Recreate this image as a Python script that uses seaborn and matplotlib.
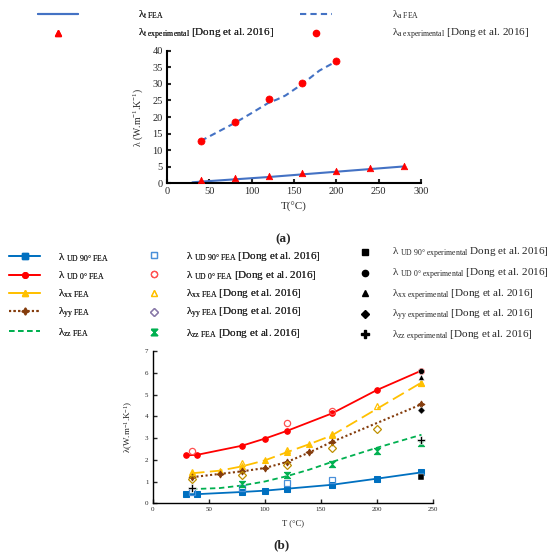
import matplotlib
matplotlib.use("Agg")
import matplotlib.pyplot as plt
import seaborn as sns
from matplotlib.lines import Line2D

# ---- data (a): axial / transverse conductivity ----
t_fea_t = [30, 40, 80, 120, 160, 200, 240, 280]
lam_t_fea = [0.3, 0.5, 1.2, 1.9, 2.7, 3.5, 4.3, 5.1]
t_exp_t = [40, 80, 120, 160, 200, 240, 280]
lam_t_exp = [1.0, 1.5, 2.3, 3.0, 3.6, 4.5, 5.1]

t_fea_a = [40, 60, 80, 100, 120, 130, 140, 160, 180, 200]
lam_a_fea = [12.8, 15.5, 18.2, 21.2, 24.3, 25.3, 26.5, 30.0, 34.0, 36.8]
t_exp_a = [40, 80, 120, 160, 200]
lam_a_exp = [12.8, 18.5, 25.5, 30.2, 36.8]

# ---- data (b) ----
t_ud90 = [30, 40, 80, 100, 120, 160, 200, 240]
ud90_fea = [0.42, 0.42, 0.52, 0.58, 0.67, 0.85, 1.13, 1.42]
t_ud90_dong = [35, 80, 120, 160]
ud90_dong = [0.52, 0.72, 0.93, 1.05]
t_ud90_exp = [240]
ud90_exp = [1.2]

t_ud0 = [30, 40, 80, 100, 120, 160, 200, 240]
ud0_fea = [2.2, 2.23, 2.65, 2.97, 3.33, 4.13, 5.2, 6.1]
t_ud0_dong = [35, 120, 160]
ud0_dong = [2.42, 3.68, 4.25]
t_ud0_exp = [240]
ud0_exp = [6.1]

t_xx = [35, 60, 80, 100, 120, 140, 160, 240]
xx_fea = [1.38, 1.5, 1.7, 1.97, 2.35, 2.72, 3.12, 5.55]
t_xx_dong = [35, 80, 120, 160, 200, 240]
xx_dong = [1.45, 1.85, 2.45, 3.2, 4.48, 5.55]
t_xx_exp = [240]
xx_exp = [5.8]

t_yy = [35, 60, 80, 100, 120, 140, 160, 240]
yy_fea = [1.2, 1.35, 1.47, 1.62, 1.9, 2.34, 2.82, 4.55]
t_yy_dong = [35, 80, 120, 160, 200]
yy_dong = [1.1, 1.32, 1.77, 2.52, 3.4]
t_yy_exp = [240]
yy_exp = [4.3]

t_zz = [35, 60, 80, 100, 120, 140, 160, 200, 240]
zz_fea = [0.65, 0.7, 0.82, 1.0, 1.25, 1.55, 1.9, 2.55, 3.15]
t_zz_dong = [80, 120, 160, 200, 240]
zz_dong = [0.88, 1.28, 1.8, 2.4, 2.79]
t_zz_exp = [35, 240]
zz_exp = [0.68, 2.9]

DONG = " [Dong et al. 2016]"

sns.set_style("ticks")
plt.rcParams["font.family"] = ["Liberation Serif", "DejaVu Serif"]
plt.rcParams["mathtext.fontset"] = "custom"
plt.rcParams["mathtext.rm"] = "Liberation Serif"
plt.rcParams["mathtext.it"] = "Liberation Serif:italic"

BLUE_A = "#4472C4"
RED = "#FF0000"
BLUE = "#0070C0"
GOLD = "#FFC000"
BROWN = "#843C0C"
GREEN = "#00B050"
HOURGLASS = [(-1, 1), (1, 1), (-1, -1), (1, -1), (-1, 1)]

fig = plt.figure(figsize=(5.5, 5.53), dpi=100)


def style_axes(ax, lw, tick_size):
    sns.despine(ax=ax)
    for side in ["left", "bottom"]:
        ax.spines[side].set_linewidth(lw)
        ax.spines[side].set_color("black")
    ax.tick_params(direction="in", length=3, width=lw, labelsize=tick_size, pad=3)


# ---------------- (a) ----------------
ax1 = fig.add_axes([0.3036, 0.6685, 0.4619, 0.2398])
sns.lineplot(x=t_fea_t, y=lam_t_fea, ax=ax1, color=BLUE_A, lw=1.5)
sns.lineplot(x=t_fea_a, y=lam_a_fea, ax=ax1, color=BLUE_A, lw=1.5, dashes=False, linestyle=(0, (3, 2)))
sns.scatterplot(x=t_exp_t, y=lam_t_exp, ax=ax1, marker="^", color=RED, s=22, edgecolor=RED, linewidth=0.5, zorder=3)
sns.scatterplot(x=t_exp_a, y=lam_a_exp, ax=ax1, marker="o", color=RED, s=26, edgecolor=RED, linewidth=0.5, zorder=3)
ax1.set_xlim(0, 300)
ax1.set_ylim(0, 40)
ax1.set_xticks(range(0, 301, 50))
ax1.set_yticks(range(0, 41, 5))
style_axes(ax1, 1.5, 7.5)
ax1.set_xlabel("T(°C)", fontsize=8, labelpad=4)
ax1.set_ylabel("λ (W.m$^{-1}$.K$^{-1}$)", fontsize=7, labelpad=5)

h_top1 = [
    Line2D([], [], color=BLUE_A, lw=1.5),
    Line2D([], [], color=RED, marker="^", ls="", ms=4),
]
l_top1 = ["λ$_{\\mathrm{t\\ FEA}}$", "λ$_{\\mathrm{t\\ experimental}}$" + DONG]
h_top2 = [
    Line2D([], [], color=BLUE_A, lw=1.5, ls=(0, (3, 2))),
    Line2D([], [], color=RED, marker="o", ls="", ms=4.5),
]
l_top2 = ["λ$_{\\mathrm{a\\ FEA}}$", "λ$_{\\mathrm{a\\ experimental}}$" + DONG]

leg_kw = dict(frameon=False, fontsize=8, borderpad=0, borderaxespad=0, labelspacing=0.5, loc="center left")
leg = fig.legend(h_top1, l_top1, bbox_to_anchor=(38 / 550, 1 - 25.5 / 553), handlelength=3.6, handletextpad=5.4, **leg_kw)
fig.add_artist(leg)
fig.legend(h_top2, l_top2, bbox_to_anchor=(300 / 550, 1 - 25.5 / 553), handlelength=2.9, handletextpad=5.4, **leg_kw)

fig.text(283 / 550, 1 - 239 / 553, "(a)", fontsize=9.5, fontweight="bold", ha="center", va="center")

# ---------------- (b) ----------------
ax2 = fig.add_axes([0.2776, 0.0899, 0.5091, 0.2754])
sns.lineplot(x=t_ud90, y=ud90_fea, ax=ax2, color=BLUE, lw=1.3, marker="s", ms=4, mec=BLUE)
sns.lineplot(x=t_ud0, y=ud0_fea, ax=ax2, color=RED, lw=1.3, marker="o", ms=4, mec=RED)
sns.lineplot(x=t_xx, y=xx_fea, ax=ax2, color=GOLD, lw=1.3, linestyle=(0, (7, 3)), marker="^", ms=4, mec=GOLD)
sns.lineplot(x=t_yy, y=yy_fea, ax=ax2, color=BROWN, lw=1.5, linestyle=(0, (1, 1.2)), marker=(4, 1, 0), ms=5, mec=BROWN)
sns.lineplot(x=t_zz, y=zz_fea, ax=ax2, color=GREEN, lw=1.3, linestyle=(0, (3, 2)))

sns.lineplot(x=t_ud90_dong, y=ud90_dong, ax=ax2, ls="", marker="s", ms=4.5, mfc="none", mec="#4A90D9", mew=0.9)
sns.lineplot(x=t_ud0_dong, y=ud0_dong, ax=ax2, ls="", marker="o", ms=4.5, mfc="none", mec="#FF5050", mew=0.9)
sns.lineplot(x=t_xx_dong, y=xx_dong, ax=ax2, ls="", marker="^", ms=5, mfc="none", mec=GOLD, mew=0.9)
sns.lineplot(x=t_yy_dong, y=yy_dong, ax=ax2, ls="", marker="D", ms=4.5, mfc="none", mec="#BF8F00", mew=0.9)
sns.lineplot(x=t_zz_dong, y=zz_dong, ax=ax2, ls="", marker=HOURGLASS, ms=4.5, color=GREEN, mec=GREEN)

sns.scatterplot(x=t_ud90_exp, y=ud90_exp, ax=ax2, marker="s", color="black", s=16, zorder=4)
sns.scatterplot(x=t_ud0_exp, y=ud0_exp, ax=ax2, marker="o", color="black", s=18, zorder=4)
sns.scatterplot(x=t_xx_exp, y=xx_exp, ax=ax2, marker="^", color="black", s=18, zorder=4)
sns.scatterplot(x=t_yy_exp, y=yy_exp, ax=ax2, marker="D", color="black", s=14, zorder=4)
sns.scatterplot(x=t_zz_exp, y=zz_exp, ax=ax2, marker="P", color="black", s=30, zorder=4)

ax2.set_xlim(0, 250)
ax2.set_ylim(0, 7)
ax2.set_xticks(range(0, 251, 50))
ax2.set_yticks(range(0, 8))
style_axes(ax2, 1.0, 5)
ax2.set_xlabel("T (°C)", fontsize=6.2, labelpad=5)
ax2.set_ylabel("λ(W.m$^{-1}$.K$^{-1}$)", fontsize=6.5, labelpad=7)

h_b1 = [
    Line2D([], [], color=BLUE, lw=1.3, marker="s", ms=4),
    Line2D([], [], color=RED, lw=1.3, marker="o", ms=4),
    Line2D([], [], color=GOLD, lw=1.3, marker="^", ms=4),
    Line2D([], [], color=BROWN, lw=1.5, ls=(0, (1, 1.2)), marker=(4, 1, 0), ms=5),
    Line2D([], [], color=GREEN, lw=1.3, ls=(0, (3, 2))),
]
l_b1 = [
    "λ $_{\\mathrm{UD\\ 90°\\ FEA}}$",
    "λ $_{\\mathrm{UD\\ 0°\\ FEA}}$",
    "λ$_{\\mathrm{xx\\ FEA}}$",
    "λ$_{\\mathrm{yy\\ FEA}}$",
    "λ$_{\\mathrm{zz\\ FEA}}$",
]
h_b2 = [
    Line2D([], [], ls="", marker="s", ms=4.5, mfc="none", mec="#4A90D9", mew=0.9),
    Line2D([], [], ls="", marker="o", ms=4.5, mfc="none", mec="#FF5050", mew=0.9),
    Line2D([], [], ls="", marker="^", ms=5, mfc="none", mec=GOLD, mew=0.9),
    Line2D([], [], ls="", marker="D", ms=4, mfc="none", mec="#8878A8", mew=0.9),
    Line2D([], [], ls="", marker=HOURGLASS, ms=4.5, color=GREEN),
]
l_b2 = [
    "λ $_{\\mathrm{UD\\ 90°\\ FEA}}$" + DONG,
    "λ $_{\\mathrm{UD\\ 0°\\ FEA}}$" + DONG,
    "λ$_{\\mathrm{xx\\ FEA}}$" + DONG,
    "λ$_{\\mathrm{yy\\ FEA}}$" + DONG,
    "λ$_{\\mathrm{zz\\ FEA}}$" + DONG,
]
h_b3 = [
    Line2D([], [], ls="", marker="s", ms=4, color="black"),
    Line2D([], [], ls="", marker="o", ms=4.5, color="black"),
    Line2D([], [], ls="", marker="^", ms=4.5, color="black"),
    Line2D([], [], ls="", marker="D", ms=4, color="black"),
    Line2D([], [], ls="", marker="P", ms=6, color="black"),
]
l_b3 = [
    "λ $_{\\mathrm{UD\\ 90°\\ experimental}}$ Dong et al. 2016]",
    "λ $_{\\mathrm{UD\\ 0°\\ experimental}}$" + DONG,
    "λ$_{\\mathrm{xx\\ experimental}}$" + DONG,
    "λ$_{\\mathrm{yy\\ experimental}}$" + DONG,
    "λ$_{\\mathrm{zz\\ experimental}}$" + DONG,
]
y_mid = 1 - 295 / 553
leg = fig.legend(h_b1, l_b1, bbox_to_anchor=(9 / 550, y_mid), handlelength=2.8, handletextpad=1.6, **leg_kw)
fig.add_artist(leg)
leg = fig.legend(h_b2, l_b2, bbox_to_anchor=(138 / 550, y_mid), handlelength=2.8, handletextpad=1.5, **leg_kw)
fig.add_artist(leg)
fig.legend(h_b3, l_b3, bbox_to_anchor=(349 / 550, y_mid), handlelength=2.8, handletextpad=1.05, **leg_kw)

fig.text(282 / 550, 1 - 545 / 553, "(b)", fontsize=9.5, fontweight="bold", ha="center", va="center")

fig.savefig("out.png", dpi=100)
